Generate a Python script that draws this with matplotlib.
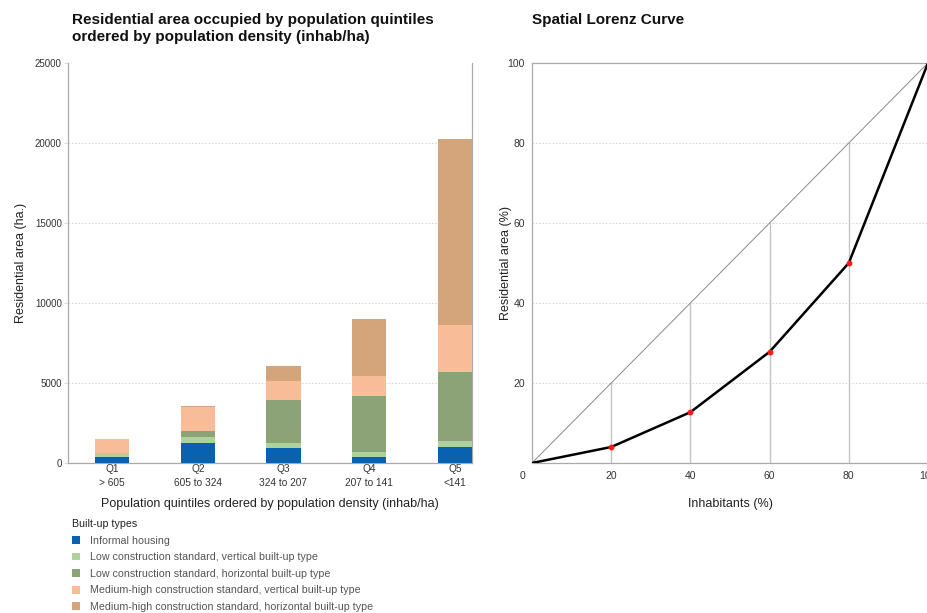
import matplotlib
matplotlib.use("Agg")
import matplotlib.pyplot as plt
import matplotlib.transforms as mtransforms
import numpy as np

plt.rcParams['font.family'] = ['Liberation Sans', 'DejaVu Sans']

# ---------------- data ----------------
quintiles = ["Q1\n> 605", "Q2\n605 to 324", "Q3\n324 to 207", "Q4\n207 to 141", "Q5\n<141"]
series_names = [
    "Informal housing",
    "Low construction standard, vertical built-up type",
    "Low construction standard, horizontal built-up type",
    "Medium-high construction standard, vertical built-up type",
    "Medium-high construction standard, horizontal built-up type",
]
informal = [350, 1250, 960, 400, 1020]
low_vertical = [250, 350, 310, 290, 355]
low_horizontal = [50, 420, 2670, 3520, 4335]
medhigh_vertical = [870, 1460, 1210, 1230, 2915]
medhigh_horizontal = [0, 80, 910, 3560, 11625]
series_colors = ["#0862B0", "#AED39A", "#8BA377", "#F8BC99", "#D4A47A"]

left_yticks = [0, 5000, 10000, 15000, 20000, 25000]

lorenz_x = [0, 20, 40, 60, 80, 100]
lorenz_y = [0, 4.0, 12.7, 27.8, 50.0, 100]
lorenz_ticks = [0, 20, 40, 60, 80, 100]

# ---------------- figure ----------------
W, H = 928, 613
fig = plt.figure(figsize=(W / 100, H / 100), dpi=100)

def frac_box(x0, y0, x1, y1):
    return [x0 / W, 1 - y1 / H, (x1 - x0) / W, (y1 - y0) / H]

ax1 = fig.add_axes(frac_box(68, 63, 472, 463))
ax2 = fig.add_axes(frac_box(532, 63, 928, 463))

spine_col = "#AAAAAA"
tick_col = "#333333"
grid_col = "#D9D9D9"

# ---------------- left: stacked bars ----------------
x = np.arange(len(quintiles))
bottom = np.zeros(len(quintiles))
handles = []
for name, vals, col in zip(series_names,
                           [informal, low_vertical, low_horizontal, medhigh_vertical, medhigh_horizontal],
                           series_colors):
    b = ax1.bar(x, vals, width=0.4, bottom=bottom, color=col, label=name, zorder=3)
    handles.append(b)
    bottom += np.array(vals)

ax1.set_xlim(-0.515, 4.2)
ax1.set_ylim(0, 25000)
ax1.set_yticks(left_yticks)
ax1.set_yticklabels([str(v) for v in left_yticks])
ax1.set_xticks(x)
ax1.set_xticklabels(quintiles, fontsize=7.3, color=tick_col, linespacing=1.45)
ax1.tick_params(axis='x', length=0, pad=1)
ax1.tick_params(axis='y', length=3, color="#DDDDDD", labelsize=7, labelcolor=tick_col, pad=1.5)
for v in left_yticks[1:-1]:
    ax1.axhline(v, color=grid_col, lw=0.8, ls=(0, (1.5, 1.5)), zorder=1)
for s in ["left", "bottom", "right"]:
    ax1.spines[s].set_color(spine_col)
    ax1.spines[s].set_linewidth(0.9)
ax1.spines["right"].set_zorder(2)
ax1.spines["top"].set_visible(False)
ax1.set_ylabel("Residential area (ha.)", fontsize=9, color="#222222")
ax1.yaxis.set_label_coords(-0.101, 0.5)
ax1.set_xlabel("Population quintiles ordered by population density (inhab/ha)",
               fontsize=9, color="#222222", labelpad=7.5)

fig.text(72 / W, 1 - 13 / H,
         "Residential area occupied by population quintiles\nordered by population density (inhab/ha)",
         fontsize=11, fontweight="bold", ha="left", va="top", color="#111111", linespacing=1.3)

leg = fig.legend(handles=handles, labels=series_names, loc="upper left",
                 bbox_to_anchor=(72 / W, 1 - 519 / H), frameon=False,
                 title="Built-up types", title_fontsize=7.7, fontsize=7.65,
                 handlelength=0.75, handleheight=0.75, handletextpad=0.9,
                 labelspacing=0.62, borderaxespad=0, borderpad=0)
leg._legend_box.align = "left"
for t in leg.get_texts():
    t.set_color("#555555")
leg.get_title().set_color("#222222")

# ---------------- right: Lorenz curve ----------------
ax2.set_xlim(0, 100)
ax2.set_ylim(0, 100)
for v in lorenz_ticks[1:-1]:
    ax2.axhline(v, color=grid_col, lw=0.8, ls=(0, (1.5, 1.5)), zorder=1)
    ax2.plot([v, v], [0, v], color="#C4C4C4", lw=1.0, zorder=2)
ax2.plot(lorenz_ticks, lorenz_ticks, color="#8A8A8A", lw=0.7, zorder=2)
ax2.plot(lorenz_x, lorenz_y, color="black", lw=1.8, zorder=3)
ax2.plot(lorenz_x[1:-1], lorenz_y[1:-1], ls="none", marker="o", ms=3.2,
         color="#FF1A1A", zorder=4)

ax2.set_xticks(lorenz_ticks)
ax2.set_xticklabels([str(v) for v in lorenz_ticks])
ax2.set_yticks(lorenz_ticks[1:])
ax2.set_yticklabels([str(v) for v in lorenz_ticks[1:]])
ax2.tick_params(axis='both', length=0, labelsize=7.5, labelcolor=tick_col)
ax2.tick_params(axis='x', pad=6)
ax2.tick_params(axis='y', pad=5)
# shift the "0" label slightly left as in the reference
lbl0 = ax2.get_xticklabels()[0]
lbl0.set_transform(lbl0.get_transform() + mtransforms.ScaledTranslation(-9 / 100, 0, fig.dpi_scale_trans))
for s in ["left", "bottom", "top"]:
    ax2.spines[s].set_color(spine_col)
    ax2.spines[s].set_linewidth(0.9)
ax2.spines["right"].set_visible(False)
ax2.set_ylabel("Residential area (%)", fontsize=9, color="#222222")
ax2.yaxis.set_label_coords(-0.051, 0.5)
ax2.set_xlabel("Inhabitants (%)", fontsize=9, color="#222222")
ax2.xaxis.set_label_coords(0.5, -0.088)

fig.text(532 / W, 1 - 13 / H, "Spatial Lorenz Curve", fontsize=11, fontweight="bold",
         ha="left", va="top", color="#111111")

fig.savefig("out.png", dpi=100)
